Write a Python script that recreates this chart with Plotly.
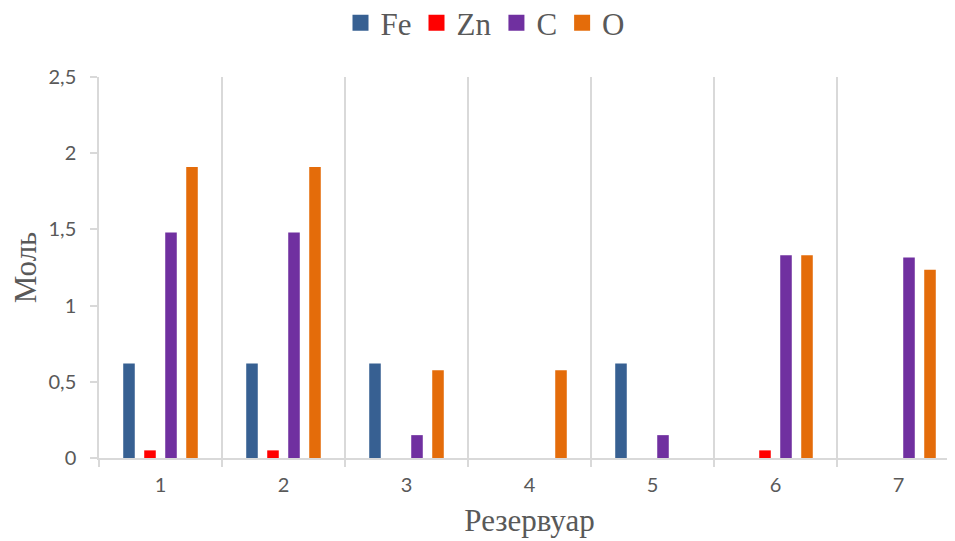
import plotly.graph_objects as go

categories = ["1", "2", "3", "4", "5", "6", "7"]
series_names = ["Fe", "Zn", "C", "O"]
fe = [0.62, 0.62, 0.62, 0, 0.62, 0, 0]
zn = [0.05, 0.05, 0, 0, 0, 0.05, 0]
c = [1.48, 1.48, 0.15, 0, 0.15, 1.33, 1.315]
o = [1.91, 1.91, 0.575, 0.575, 0, 1.33, 1.235]
y_ticks = [0, 0.5, 1, 1.5, 2, 2.5]

colors = ["#376092", "#FF0000", "#7030A0", "#E46C0A"]
values = [fe, zn, c, o]

fig = go.Figure()
for name, vals, col in zip(series_names, values, colors):
    fig.add_trace(go.Bar(x=categories, y=vals, name=name, marker_color=col,
                         marker_line_width=0, showlegend=False))
for name, col in zip(series_names, colors):
    fig.add_trace(go.Scatter(x=[None], y=[None], mode="markers", name=name,
                             marker=dict(symbol="square", size=16, color=col)))

grid = "#d9d9d9"
fig.update_layout(
    width=955, height=541,
    margin=dict(l=91, r=3, t=69, b=91, autoexpand=False),
    paper_bgcolor="white", plot_bgcolor="white",
    barmode="group", bargap=0.317, bargroupgap=0.45,
    separators=", ",
    legend=dict(orientation="h", xref="container", yref="container",
                x=0.5, xanchor="center", y=0.972, yanchor="middle",
                font=dict(family="Liberation Serif", size=31, color="#595959"),
                itemsizing="trace", tracegroupgap=0, itemwidth=30),
    xaxis=dict(type="category", range=[-0.5, 6.5], tickson="boundaries",
               automargin=False,
               showline=True, linecolor=grid, linewidth=1.5,
               showgrid=True, gridcolor=grid, gridwidth=1.5,
               ticks="outside", ticklen=7, tickcolor=grid, tickwidth=1.5,
               ticklabelstandoff=8,
               tickfont=dict(family="Lato", size=20, color="#595959"),
               title=dict(text="Резервуар", standoff=15,
                          font=dict(family="Liberation Serif", size=31, color="#595959"))),
    yaxis=dict(range=[0, 2.5], tickvals=y_ticks, showgrid=False, zeroline=False,
               automargin=False,
               showline=True, linecolor=grid, linewidth=1.5,
               ticks="outside", ticklen=7, tickcolor=grid, tickwidth=1.5,
               ticklabelstandoff=10,
               tickfont=dict(family="Lato", size=20, color="#595959"),
               title=dict(text="Моль", standoff=13,
                          font=dict(family="Liberation Serif", size=31, color="#595959"))),
)
fig.write_html("out.html")
